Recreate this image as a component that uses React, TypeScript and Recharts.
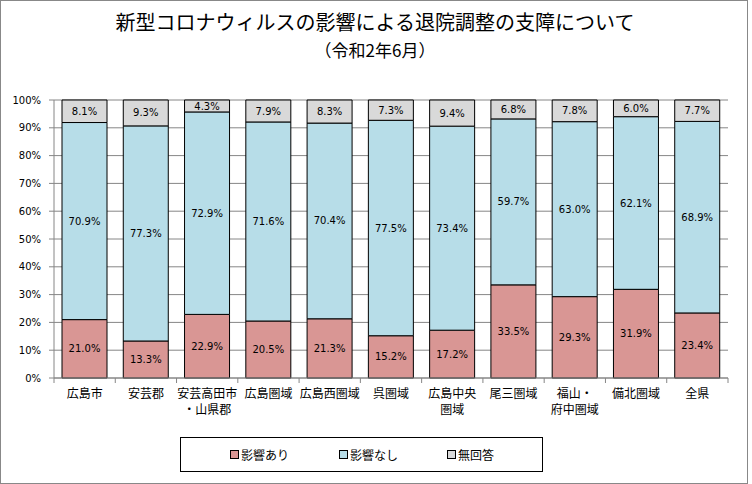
import { BarChart, Bar, XAxis, YAxis, CartesianGrid, Legend, LabelList } from 'recharts';

const categories = [
  '広島市', '安芸郡', '安芸高田市\n・山県郡', '広島圏域', '広島西圏域', '呉圏域',
  '広島中央\n圏域', '尾三圏域', '福山・\n府中圏域', '備北圏域', '全県',
];
const affected = [21.0, 13.3, 22.9, 20.5, 21.3, 15.2, 17.2, 33.5, 29.3, 31.9, 23.4];
const notAffected = [70.9, 77.3, 72.9, 71.6, 70.4, 77.5, 73.4, 59.7, 63.0, 62.1, 68.9];
const noAnswer = [8.1, 9.3, 4.3, 7.9, 8.3, 7.3, 9.4, 6.8, 7.8, 6.0, 7.7];
const yTicks = [0, 0.1, 0.2, 0.3, 0.4, 0.5, 0.6, 0.7, 0.8, 0.9, 1];

const series = [
  { key: 'affected', name: '影響あり', color: '#d99694' },
  { key: 'notAffected', name: '影響なし', color: '#b7dde8' },
  { key: 'noAnswer', name: '無回答', color: '#d9d9d9' },
];

const data = categories.map((c, i) => ({
  name: c,
  affected: affected[i],
  notAffected: notAffected[i],
  noAnswer: noAnswer[i],
}));

const jp = '"Noto Sans CJK JP", sans-serif';
const num = '"DejaVu Sans", sans-serif';

const XTick = (props: any) => {
  const { x, y, payload, index } = props;
  const w = typeof props.width === 'number' ? props.width : 674;
  const step = w / categories.length;
  const lines = String(payload.value).split('\n');
  return (
    <g>
      <line x1={x - step / 2} x2={x - step / 2} y1={y} y2={y + 5} stroke="#868686" />
      {index === categories.length - 1 && (
        <line x1={x + step / 2} x2={x + step / 2} y1={y} y2={y + 5} stroke="#868686" />
      )}
      {lines.map((l, i) => (
        <text key={i} x={x} y={y + 20 + i * 16} textAnchor="middle" fontSize={12} fontFamily={jp} fill="#000">
          {l}
        </text>
      ))}
    </g>
  );
};

const LegendBox = () => (
  <div
    style={{
      width: 363, height: 35, boxSizing: 'border-box', border: '1px solid #000',
      position: 'relative', fontFamily: jp, fontSize: 12, background: '#fff',
    }}
  >
    {series.map((s, i) => (
      <div key={s.key} style={{ position: 'absolute', left: [49, 158, 266][i], top: 8, display: 'flex', alignItems: 'center' }}>
        <span style={{ display: 'inline-block', width: 7, height: 7, border: '1px solid #000', background: s.color, marginRight: 2 }} />
        <span>{s.name}</span>
      </div>
    ))}
  </div>
);

export default function App() {
  return (
    <div
      style={{
        position: 'absolute', left: 0, top: 0, width: 748, height: 484,
        boxSizing: 'border-box', border: '1px solid #888', background: '#fff',
      }}
    >
      <div style={{ position: 'absolute', left: 0, top: 8, width: 748, textAlign: 'center', fontFamily: jp, fontSize: 20, lineHeight: '26px', color: '#000' }}>
        新型コロナウィルスの影響による退院調整の支障について
      </div>
      <div style={{ position: 'absolute', left: 0, top: 37, width: 748, textAlign: 'center', fontFamily: jp, fontSize: 17, lineHeight: '24px', color: '#000' }}>
        （令和2年6月）
      </div>
      <div style={{ position: 'absolute', left: -1, top: -1 }}>
        <BarChart
          width={748}
          height={484}
          data={data}
          stackOffset="expand"
          margin={{ top: 100, right: 20, left: 0, bottom: 21 }}
        >
          <CartesianGrid vertical={false} stroke="#868686" />
          <XAxis
            dataKey="name"
            interval={0}
            tickLine={false}
            tickSize={0}
            tickMargin={0}
            height={50}
            axisLine={{ stroke: '#868686' }}
            tick={<XTick />}
          />
          <YAxis
            width={54}
            domain={[0, 1]}
            ticks={yTicks}
            tickSize={5}
            tickMargin={8}
            axisLine={{ stroke: '#868686' }}
            tickLine={{ stroke: '#868686' }}
            tickFormatter={(v: number) => `${Math.round(v * 100)}%`}
            tick={{ fontSize: 10, fontFamily: num, fill: '#000' }}
          />
          <Legend
            content={<LegendBox />}
            wrapperStyle={{ position: 'absolute', left: 180, top: 437, width: 363, height: 35 }}
          />
          {series.map((s) => (
            <Bar
              key={s.key}
              dataKey={s.key}
              name={s.name}
              stackId="a"
              fill={s.color}
              stroke="#000"
              strokeWidth={1}
              barSize={45}
              isAnimationActive={false}
            >
              <LabelList
                dataKey={s.key}
                position="center"
                formatter={(v: any) => `${Number(v).toFixed(1)}%`}
                style={{ fontSize: 10, fontFamily: num, fill: '#000' }}
              />
            </Bar>
          ))}
        </BarChart>
      </div>
    </div>
  );
}
